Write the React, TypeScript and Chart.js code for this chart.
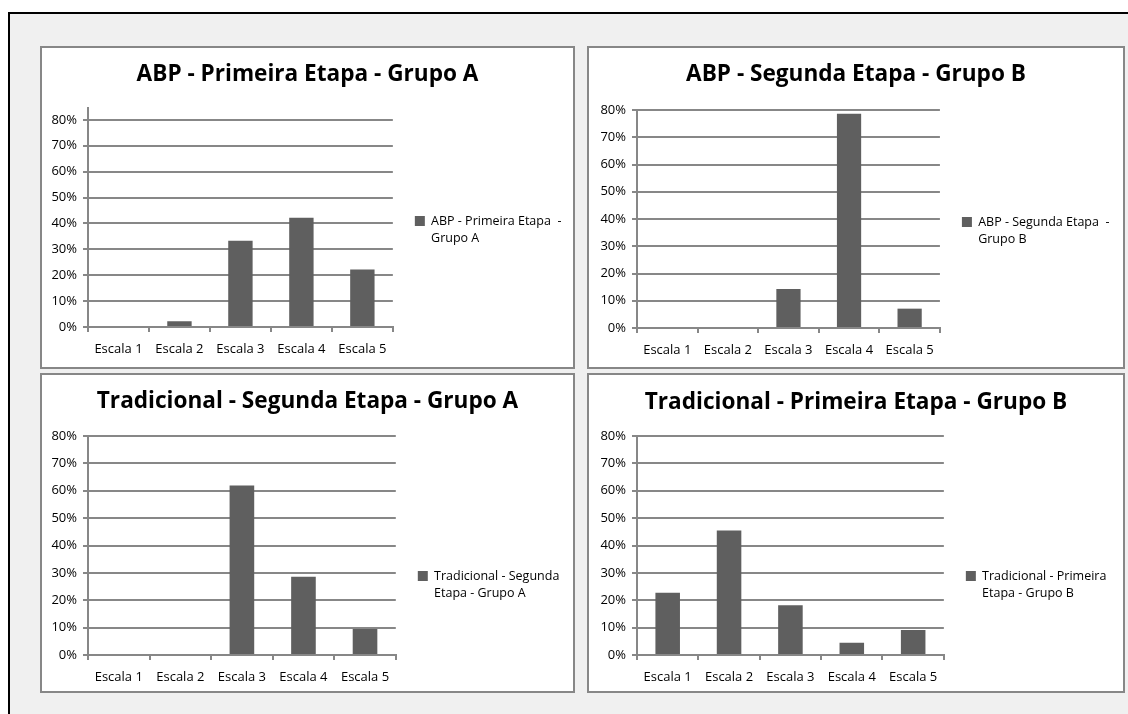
import React, { useEffect, useRef } from 'react';
import { Chart, registerables } from 'chart.js';

Chart.register(...registerables);
Chart.defaults.font.family = 'Open Sans';

// ---- data ----
const categories = ['Escala 1', 'Escala 2', 'Escala 3', 'Escala 4', 'Escala 5'];

const abpPrimeiraGrupoA = [0, 0.022, 0.333, 0.422, 0.222];
const abpSegundaGrupoB = [0, 0, 0.143, 0.786, 0.071];
const tradicionalSegundaGrupoA = [0, 0, 0.619, 0.286, 0.095];
const tradicionalPrimeiraGrupoB = [0.227, 0.455, 0.182, 0.045, 0.091];

const chartTitles = [
  'ABP - Primeira Etapa - Grupo A',
  'ABP - Segunda Etapa - Grupo B',
  'Tradicional - Segunda Etapa - Grupo A',
  'Tradicional - Primeira Etapa - Grupo B',
];

const legendLines = [
  ['ABP - Primeira Etapa  -', 'Grupo A'],
  ['ABP - Segunda Etapa  -', 'Grupo B'],
  ['Tradicional - Segunda', 'Etapa - Grupo A'],
  ['Tradicional - Primeira', 'Etapa - Grupo B'],
];

const yAxisMax = [0.846, 0.8, 0.8, 0.8];
const yTickStep = 0.1;

// ---- style / layout ----
const BAR = '#5f5f5f';
const GRID = '#878787';
const TEXT = '#000000';

type Box = { left: number; top: number; right: number; bottom: number };
type PanelSpec = {
  box: Box; // outer border box (page coords)
  area: Box; // plot area (page coords)
  titleY: number; // title centre (page)
  legendY: number; // first legend line centre (page)
  title: string;
  legend: string[];
  values: number[];
  yMax: number;
};

const panels: PanelSpec[] = [
  {
    box: { left: 40, top: 46, right: 575, bottom: 369 },
    area: { left: 88, top: 108, right: 392, bottom: 327 },
    titleY: 74.5,
    legendY: 221,
    title: chartTitles[0],
    legend: legendLines[0],
    values: abpPrimeiraGrupoA,
    yMax: yAxisMax[0],
  },
  {
    box: { left: 587, top: 46, right: 1125, bottom: 369 },
    area: { left: 637, top: 110, right: 939, bottom: 328 },
    titleY: 75,
    legendY: 222,
    title: chartTitles[1],
    legend: legendLines[1],
    values: abpSegundaGrupoB,
    yMax: yAxisMax[1],
  },
  {
    box: { left: 40, top: 373, right: 575, bottom: 693 },
    area: { left: 88, top: 436, right: 395, bottom: 655 },
    titleY: 402,
    legendY: 576,
    title: chartTitles[2],
    legend: legendLines[2],
    values: tradicionalSegundaGrupoA,
    yMax: yAxisMax[2],
  },
  {
    box: { left: 587, top: 373, right: 1125, bottom: 693 },
    area: { left: 637, top: 436, right: 943, bottom: 655 },
    titleY: 402.5,
    legendY: 576,
    title: chartTitles[3],
    legend: legendLines[3],
    values: tradicionalPrimeiraGrupoB,
    yMax: yAxisMax[3],
  },
];

const BORDER = 2;
const TITLE_SIZE = 22.6;
const LABEL_SIZE = 13;
const LEGEND_SIZE = 12.5;
const LEGEND_PAD = 22;

function Panel({ p }: { p: PanelSpec }) {
  const ref = useRef<HTMLCanvasElement>(null);
  const ox = p.box.left + BORDER;
  const oy = p.box.top + BORDER;
  const w = p.box.right - p.box.left - 2 * BORDER;
  const h = p.box.bottom - p.box.top - 2 * BORDER;

  useEffect(() => {
    const canvas = ref.current!;
    const target = {
      left: p.area.left - ox,
      right: p.area.right - ox,
      top: p.area.top - oy,
      bottom: p.area.bottom - oy,
    };
    const padding = { left: 0, right: 0, top: 0, bottom: 0 };
    const titlePadding = { top: p.titleY - oy - (TITLE_SIZE * 1.2) / 2, bottom: 10 };
    const legendTop = p.legendY - oy - LEGEND_SIZE / 2 - LEGEND_PAD;

    const fixPlugin = {
      id: 'panelFix',
      afterLayout(chart: any) {
        const t = chart.titleBlock;
        if (t) {
          t.left = 0;
          t.right = chart.width;
          t.width = chart.width;
        }
        const lg = chart.legend;
        if (lg) {
          const lh = lg.bottom - lg.top;
          lg.left = chart.chartArea.right;
          lg.right = chart.width;
          lg.width = lg.right - lg.left;
          lg.top = legendTop;
          lg.bottom = legendTop + Math.max(lh, 60);
          lg.height = lg.bottom - lg.top;
        }
      },
    };

    const labelFont = { family: 'Open Sans', size: LABEL_SIZE };

    const chart = new Chart(canvas, {
      type: 'bar',
      data: {
        labels: categories,
        datasets: [
          {
            label: p.title,
            data: p.values,
            backgroundColor: BAR,
            borderWidth: 0,
            categoryPercentage: 1,
            barPercentage: 0.4,
          },
        ],
      },
      options: {
        responsive: false,
        animation: false,
        devicePixelRatio: 1,
        layout: { padding },
        plugins: {
          title: {
            display: true,
            text: p.title,
            color: TEXT,
            font: { family: 'Open Sans', size: TITLE_SIZE, weight: 'bold', lineHeight: 1.2 },
            padding: titlePadding,
          },
          legend: {
            display: true,
            position: 'right',
            align: 'start',
            labels: {
              boxWidth: 10,
              boxHeight: 10,
              padding: LEGEND_PAD,
              color: TEXT,
              font: { family: 'Open Sans', size: LEGEND_SIZE, lineHeight: 1.36 },
              generateLabels: () => [
                {
                  text: p.legend as any,
                  fillStyle: BAR,
                  strokeStyle: BAR,
                  lineWidth: 0,
                  hidden: false,
                  datasetIndex: 0,
                  fontColor: TEXT,
                } as any,
              ],
            },
          },
          tooltip: { enabled: false },
        },
        scales: {
          x: {
            grid: {
              offset: true,
              drawOnChartArea: false,
              drawTicks: true,
              tickLength: 5,
              color: GRID,
              lineWidth: 2,
            },
            border: { display: true, color: GRID, width: 2 },
            ticks: {
              color: TEXT,
              font: labelFont,
              padding: 9,
              maxRotation: 0,
              autoSkip: false,
            },
          },
          y: {
            min: 0,
            max: p.yMax,
            afterFit: (s: any) => {
              s.width = 40;
            },
            grid: {
              drawTicks: true,
              tickLength: 5,
              color: GRID,
              lineWidth: 2,
            },
            border: { display: true, color: GRID, width: 2 },
            ticks: {
              stepSize: yTickStep,
              includeBounds: false,
              color: TEXT,
              font: labelFont,
              padding: 6,
              callback: (v: any) => Math.round(Number(v) * 100) + '%',
            },
          },
        },
      } as any,
      plugins: [fixPlugin],
    });

    for (let i = 0; i < 3; i++) {
      const a = chart.chartArea;
      padding.left += target.left - a.left;
      padding.right += a.right - target.right;
      titlePadding.bottom += target.top - a.top;
      padding.bottom += a.bottom - target.bottom;
      chart.update();
    }

    return () => chart.destroy();
  }, []);

  return (
    <div
      style={{
        position: 'absolute',
        left: p.box.left,
        top: p.box.top,
        width: w,
        height: h,
        border: `${BORDER}px solid ${GRID}`,
        background: '#ffffff',
      }}
    >
      <canvas ref={ref} width={w} height={h} style={{ display: 'block', width: w, height: h }} />
    </div>
  );
}

export default function App() {
  return (
    <div
      style={{
        position: 'absolute',
        left: 0,
        top: 0,
        width: 1128,
        height: 714,
        overflow: 'hidden',
        background: '#ffffff',
      }}
    >
      <div
        style={{
          position: 'absolute',
          left: 8,
          top: 12,
          width: 1130,
          height: 710,
          borderLeft: '2px solid #000',
          borderTop: '2px solid #000',
          background: '#f0f0f0',
        }}
      />
      {panels.map((p, i) => (
        <Panel key={i} p={p} />
      ))}
    </div>
  );
}
